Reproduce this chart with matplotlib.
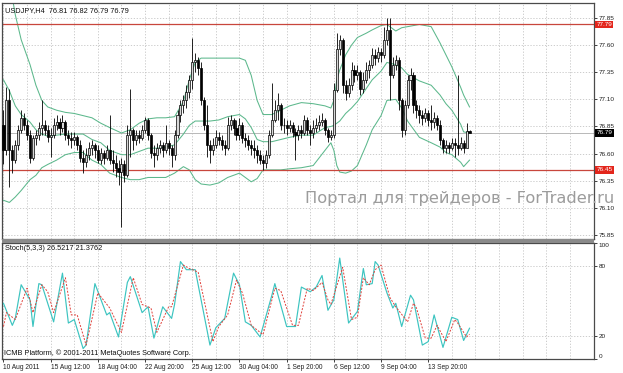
import matplotlib
matplotlib.use('Agg')
import matplotlib.pyplot as plt
import matplotlib.transforms as mtransforms
from matplotlib.patches import Rectangle
import numpy as np

plt.rcParams['font.family'] = ['Liberation Sans', 'DejaVu Sans']

# USDJPY H4 candles (bar index 0 = 10 Aug 2011 00:00)
first_open = 76.86
closes = [
    76.63, 77.09, 76.63, 76.54, 76.68, 76.82, 76.93, 76.86, 76.77, 76.56,
    76.74, 76.77, 76.84, 76.86, 76.82, 76.75, 76.77, 76.86, 76.89, 76.84,
    76.89, 76.77, 76.74, 76.73, 76.75, 76.68, 76.56, 76.52, 76.59, 76.65,
    76.68, 76.63, 76.54, 76.61, 76.56, 76.63, 76.54, 76.51, 76.47, 76.43,
    76.50, 76.40, 76.77, 76.82, 76.73, 76.77, 76.74, 76.82, 76.91, 76.77,
    76.61, 76.59, 76.65, 76.68, 76.63, 76.70, 76.65, 76.59, 76.77, 76.96,
    77.05, 77.09, 77.17, 77.28, 77.44, 77.46, 77.39, 77.09, 76.86, 76.68,
    76.63, 76.68, 76.75, 76.73, 76.68, 76.65, 76.86, 76.91, 76.84, 76.77,
    76.86, 76.74, 76.73, 76.68, 76.65, 76.63, 76.59, 76.54, 76.51, 76.59,
    76.77, 76.91, 77.00, 77.05, 76.86, 76.86, 76.84, 76.86, 76.80, 76.77,
    76.82, 76.79, 76.91, 76.82, 76.79, 76.84, 76.86, 76.89, 76.91, 76.82,
    76.75, 76.77, 77.19, 77.56, 77.65, 77.23, 77.16, 77.23, 77.37, 77.32,
    77.35, 77.20, 77.28, 77.37, 77.42, 77.51, 77.48, 77.54, 77.51, 77.65,
    77.74, 77.32, 77.42, 77.46, 77.09, 76.82, 77.05, 77.28, 77.32, 77.05,
    77.00, 76.96, 76.93, 76.97, 76.91, 76.89, 76.93, 76.86, 76.73, 76.65,
    76.68, 76.65, 76.70, 76.68, 76.65, 76.70, 76.65, 76.81, 76.79,
]
highs = [
    77.00, 77.21, 77.20, 76.68, 76.73, 76.86, 77.00, 76.97, 76.91, 76.82,
    76.77, 76.82, 76.89, 77.09, 76.91, 76.86, 76.84, 76.93, 76.96, 76.93,
    76.96, 76.91, 76.82, 76.80, 76.80, 76.77, 76.73, 76.63, 76.65, 76.71,
    76.73, 76.70, 76.68, 76.65, 76.63, 76.68, 76.96, 76.63, 76.59, 76.54,
    76.56, 76.54, 76.86, 77.20, 76.84, 76.82, 76.82, 76.86, 76.94, 76.93,
    76.79, 76.68, 76.70, 76.73, 76.71, 76.86, 76.73, 76.68, 76.82, 77.00,
    77.09, 77.14, 77.23, 77.32, 77.67, 77.53, 77.49, 77.44, 77.12, 77.05,
    76.73, 76.74, 76.82, 76.80, 76.77, 76.73, 76.94, 76.96, 76.93, 76.91,
    76.93, 76.89, 76.79, 76.77, 76.73, 76.73, 76.68, 76.63, 76.59, 76.63,
    76.82, 77.25, 77.09, 77.16, 77.07, 76.93, 76.91, 76.91, 76.89, 76.84,
    76.86, 76.86, 76.96, 76.94, 76.86, 76.91, 76.93, 76.96, 76.97, 76.93,
    76.84, 76.82, 77.25, 77.71, 77.69, 77.67, 77.28, 77.30, 77.44, 77.42,
    77.42, 77.37, 77.35, 77.44, 77.46, 77.57, 77.56, 77.58, 77.57, 77.77,
    77.85, 77.85, 77.49, 77.51, 77.49, 77.11, 77.09, 77.32, 77.39, 77.35,
    77.09, 77.05, 77.00, 77.02, 77.00, 77.05, 76.98, 76.96, 76.91, 76.74,
    76.73, 76.71, 76.74, 76.74, 77.32, 76.75, 76.73, 76.88, 76.82,
]
lows = [
    76.50, 76.59, 76.29, 76.42, 76.51, 76.63, 76.79, 76.82, 76.73, 76.51,
    76.54, 76.68, 76.73, 76.77, 76.77, 76.71, 76.57, 76.74, 76.82, 76.77,
    76.80, 76.73, 76.68, 76.65, 76.68, 76.63, 76.52, 76.42, 76.48, 76.54,
    76.59, 76.56, 76.51, 76.50, 76.50, 76.54, 76.50, 76.43, 76.38, 76.31,
    75.92, 76.34, 76.38, 76.57, 76.63, 76.68, 76.70, 76.73, 76.79, 76.73,
    76.56, 76.48, 76.54, 76.61, 76.57, 76.61, 76.59, 76.48, 76.54, 76.74,
    76.89, 76.97, 77.02, 77.11, 77.20, 77.35, 77.32, 77.05, 76.82, 76.57,
    76.51, 76.59, 76.65, 76.68, 76.63, 76.59, 76.63, 76.82, 76.77, 76.73,
    76.73, 76.70, 76.66, 76.63, 76.59, 76.56, 76.51, 76.50, 76.45, 76.47,
    76.56, 76.75, 76.89, 76.91, 76.82, 76.79, 76.77, 76.80, 76.75, 76.54,
    76.73, 76.74, 76.77, 76.77, 76.68, 76.74, 76.80, 76.82, 76.85, 76.77,
    76.71, 76.73, 76.74, 77.17, 77.51, 77.16, 77.09, 77.12, 77.19, 77.26,
    77.28, 77.14, 77.16, 77.25, 77.30, 77.39, 77.42, 77.44, 77.44, 77.48,
    77.60, 77.09, 77.30, 77.37, 77.00, 76.75, 76.77, 77.02, 77.19, 76.97,
    76.93, 76.88, 76.86, 76.89, 76.85, 76.82, 76.84, 76.82, 76.68, 76.61,
    76.61, 76.61, 76.63, 76.57, 76.59, 76.63, 76.61, 76.68, 76.79,
]

# Bollinger bands, read at these bars
band_bars = [0, 2, 4, 6, 9, 11, 13, 15, 18, 21, 24, 27, 30, 33, 36, 40, 43, 46, 49, 52,
             55, 58, 61, 63, 65, 67, 70, 73, 76, 80, 82, 84, 86, 88, 91, 94, 97, 101, 105, 109,
             111, 112, 113, 114, 116, 118, 120, 123, 125, 128, 130, 133, 135, 137, 141, 145, 148, 150, 152, 155,
             156, 158]
bb_upper = [78.38, 78.20, 77.88, 77.65, 77.42, 77.23, 77.09, 77.03, 77.00, 76.98,
            76.97, 76.95, 76.93, 76.88, 76.84, 76.79, 76.82, 76.88, 76.92, 76.93,
            76.93, 76.94, 77.08, 77.28, 77.44, 77.48, 77.48, 77.48, 77.48, 77.48,
            77.46, 77.32, 77.09, 76.96, 76.96, 77.00, 77.04, 77.07, 77.06, 77.04,
            77.02, 77.09, 77.28, 77.37, 77.51, 77.60, 77.67, 77.71, 77.74, 77.78,
            77.79, 77.73, 77.76, 77.77, 77.79, 77.77, 77.62, 77.51, 77.40, 77.21,
            77.14, 77.03]
bb_middle = [77.28, 77.18, 77.04, 76.96, 76.89, 76.82, 76.78, 76.76, 76.77, 76.78,
             76.78, 76.78, 76.73, 76.70, 76.63, 76.59, 76.59, 76.62, 76.65, 76.65,
             76.66, 76.68, 76.78, 76.86, 76.90, 76.90, 76.90, 76.91, 76.94, 76.96,
             76.92, 76.84, 76.73, 76.71, 76.71, 76.73, 76.75, 76.77, 76.77, 76.84,
             76.85, 76.86, 76.88, 76.90, 76.97, 77.02, 77.08, 77.20, 77.28, 77.36,
             77.44, 77.42, 77.39, 77.33, 77.27, 77.23, 77.14, 77.06, 77.00, 76.87,
             76.80, 76.79]
bb_lower = [76.17, 76.15, 76.20, 76.26, 76.36, 76.40, 76.47, 76.50, 76.54, 76.59,
            76.61, 76.61, 76.54, 76.50, 76.42, 76.38, 76.36, 76.36, 76.38, 76.38,
            76.38, 76.42, 76.48, 76.45, 76.36, 76.32, 76.31, 76.33, 76.38, 76.42,
            76.38, 76.34, 76.37, 76.45, 76.45, 76.45, 76.46, 76.47, 76.49, 76.63,
            76.70, 76.63, 76.49, 76.43, 76.42, 76.44, 76.49, 76.68, 76.82, 76.95,
            77.09, 77.10, 77.02, 76.90, 76.75, 76.70, 76.66, 76.61, 76.59, 76.52,
            76.48, 76.54]

# Stochastic(5,3,3) turning points
stoch_k_bars = [0, 3, 4, 6, 9, 10, 12, 13, 17, 20, 22, 24, 27, 28, 31, 35, 36, 39, 42, 43,
                47, 49, 51, 54, 57, 58, 60, 62, 65, 70, 72, 75, 78, 80, 82, 84, 87, 91, 92, 96,
                99, 101, 104, 106, 108, 110, 112, 114, 117, 120, 122, 123, 125, 126, 127, 130, 132, 133, 135, 138,
                139, 142, 144, 146, 149, 152, 154, 156, 158]
stoch_k = [48, 29, 35, 64, 51, 28, 65, 64, 32, 74, 31, 34, 9, 12, 65, 38, 40, 19, 66, 71,
           40, 45, 18, 45, 35, 47, 84, 77, 77, 12, 27, 35, 74, 64, 32, 29, 19, 55, 65, 28,
           28, 62, 58, 62, 72, 42, 51, 87, 31, 41, 78, 64, 65, 84, 81, 57, 44, 48, 28, 55,
           51, 12, 15, 38, 10, 36, 34, 16, 26.52]
stoch_d_bars = [0, 1, 4, 8, 10, 13, 15, 17, 21, 23, 25, 28, 32, 36, 40, 44, 47, 50, 52, 56,
                57, 61, 63, 66, 71, 73, 76, 79, 81, 84, 88, 92, 94, 98, 100, 103, 105, 108, 110, 111,
                115, 118, 120, 122, 124, 126, 128, 131, 133, 137, 139, 140, 143, 145, 147, 150, 153, 154, 157, 158]
stoch_d = [28, 40, 34, 61, 40, 64, 58, 40, 70, 38, 38, 12, 57, 44, 23, 70, 47, 44, 23, 45,
           45, 81, 78, 75, 15, 28, 38, 68, 57, 29, 21, 61, 59, 29, 29, 61, 59, 66, 51, 47,
           79, 34, 36, 70, 64, 77, 81, 53, 45, 32, 48, 44, 18, 18, 29, 15, 34, 31, 19, 21.38]

level_lines = [77.79, 76.45]
last_price = 76.79
price_ticks = [75.85, 76.10, 76.35, 76.60, 76.85, 77.10, 77.35, 77.60, 77.85]
date_bars = [0, 16, 32, 48, 64, 80, 96, 112, 128, 144]
date_labels = ['10 Aug 2011', '15 Aug 12:00', '18 Aug 04:00', '22 Aug 20:00', '25 Aug 12:00',
               '30 Aug 04:00', '1 Sep 20:00', '6 Sep 12:00', '9 Sep 04:00', '13 Sep 20:00']

W, H = 623, 373
fig = plt.figure(figsize=(W / 100, H / 100), dpi=100)
fig.patch.set_facecolor('white')


def px_axes(left, top, right, bottom):
    return fig.add_axes([left / W, 1 - bottom / H, (right - left) / W, (bottom - top) / H])


ax = px_axes(2, 3, 594, 239)
ax2 = px_axes(2, 243, 594, 359)

XMIN, XMAX = -0.5, 200.2
grid_kw = dict(color='#c4c4c4', lw=0.6, ls=(0, (1.5, 2.0)), zorder=0)

for a in (ax, ax2):
    a.set_xlim(XMIN, XMAX)
    for s in a.spines.values():
        s.set_color('#4a4a4a')
        s.set_linewidth(0.9)
    for gx in range(0, 200, 8):
        a.axvline(gx, **grid_kw)
    a.yaxis.tick_right()
    a.tick_params(axis='y', labelsize=4.6, length=2, width=0.6, pad=1.5, colors='#202020')

# main chart
ax.set_ylim(75.813, 77.988)
for p in price_ticks:
    ax.axhline(p, **grid_kw)
ax.set_yticks(price_ticks)
ax.set_yticklabels([f'{p:.2f}' for p in price_ticks])
ax.set_xticks([])

for band in (bb_upper, bb_middle, bb_lower):
    ax.plot(band_bars, band, color='#5cb88c', lw=0.75, zorder=2)

x = np.arange(len(closes))
c = np.array(closes)
o = np.array([first_open] + closes[:-1])
up = c >= o
ax.vlines(x, lows, highs, color='black', lw=0.6, zorder=3)
ax.bar(x[up], (c - o)[up], bottom=o[up], width=0.7, facecolor='#d8d8d8',
       edgecolor='black', linewidth=0.5, zorder=4)
ax.bar(x[~up], (o - c)[~up], bottom=c[~up], width=0.7, color='black',
       edgecolor='black', linewidth=0.5, zorder=4)

trans = mtransforms.blended_transform_factory(ax.transAxes, ax.transData)
ax.axhline(last_price, color='#b8b8b8', lw=0.7, zorder=1)
ax.text(1.004, last_price, f'{last_price:.2f}', transform=trans, ha='left', va='center',
        fontsize=4.6, color='white', clip_on=False, zorder=6,
        bbox=dict(boxstyle='square,pad=0.2', fc='black', ec='none'))
for lvl in level_lines:
    ax.axhline(lvl, color='#c8463c', lw=0.9, zorder=2)
    ax.text(1.004, lvl, f'{lvl:.2f}', transform=trans, ha='left', va='center',
            fontsize=4.6, color='white', clip_on=False, zorder=6,
            bbox=dict(boxstyle='square,pad=0.2', fc='#e3261c', ec='none'))

ax.text(3 / 592, 1 - 8 / 236, 'USDJPY,H4  76.81 76.82 76.79 76.79', transform=ax.transAxes,
        fontsize=5.3, color='#101010', ha='left', va='center')

# stochastic
ax2.set_ylim(0, 100)
for lv in (20, 80):
    ax2.axhline(lv, **grid_kw)
ax2.plot(stoch_k_bars, stoch_k, color='#3cc4c0', lw=0.85, zorder=3)
ax2.plot(stoch_d_bars, stoch_d, color='#e0403a', lw=0.7, ls=(0, (2.0, 1.5)), zorder=3)
ax2.set_yticks([0, 20, 80, 100])
ax2.set_yticklabels(['0', '20', '80', '100'])
lbls = ax2.get_yticklabels()
lbls[0].set_va('bottom')
lbls[3].set_va('top')
ax2.set_xticks(date_bars)
ax2.set_xticklabels(date_labels, ha='left')
ax2.tick_params(axis='x', labelsize=4.8, length=2, width=0.6, pad=1.5, colors='#202020')
ax2.text(3 / 592, 1 - 6 / 116, 'Stoch(5,3,3) 26.5217 21.3762', transform=ax2.transAxes,
         fontsize=5.3, color='#101010', ha='left', va='center')
ax2.text(2 / 592, 6 / 116, 'ICMB Platform, © 2001-2011 MetaQuotes Software Corp.',
         transform=ax2.transAxes, fontsize=5.3, color='#101010', ha='left', va='center')

# separator between panels
fig.patches.append(Rectangle((2 / W, 1 - 243 / H), 592 / W, 4 / H, transform=fig.transFigure,
                             facecolor='#8a8a8a', edgecolor='none'))

fig.text(305 / W, 1 - 203 / H, 'Портал для трейдеров - ForTrader.ru', fontsize=11.7,
         color='#9c9c9c', ha='left', va='baseline', family='DejaVu Sans')

fig.savefig('out.png', dpi=100)
